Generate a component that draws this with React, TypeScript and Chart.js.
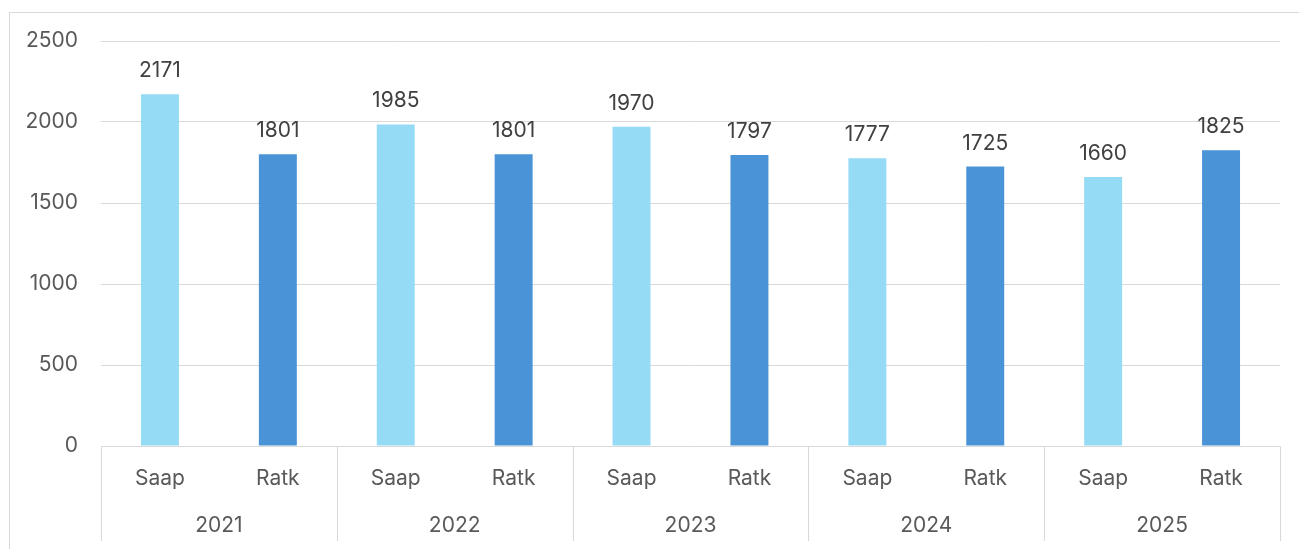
import React, { useEffect, useRef } from "react";
import { Chart, registerables } from "chart.js";

Chart.register(...registerables);

const years = ["2021", "2022", "2023", "2024", "2025"];
const subLabels = ["Saap", "Ratk"];
const saapValues = [2171, 1985, 1970, 1777, 1660];
const ratkValues = [1801, 1801, 1797, 1725, 1825];
const yTicks = [0, 500, 1000, 1500, 2000, 2500];

const SAAP_COLOR = "#95DBF5";
const RATK_COLOR = "#4A93D7";
const GRID = "#D9D9D9";
const FONT = "Inter";
const FONT_SIZE = 21;

export default function App() {
  const ref = useRef<HTMLCanvasElement | null>(null);

  useEffect(() => {
    if (!ref.current) return;
    const labels: string[] = [];
    const data: number[] = [];
    const colors: string[] = [];
    years.forEach((_, i) => {
      labels.push(subLabels[0]);
      data.push(saapValues[i]);
      colors.push(SAAP_COLOR);
      labels.push(subLabels[1]);
      data.push(ratkValues[i]);
      colors.push(RATK_COLOR);
    });

    const dataLabels = {
      id: "dataLabels",
      afterDatasetsDraw(chart: any) {
        const ctx = chart.ctx;
        const meta = chart.getDatasetMeta(0);
        ctx.save();
        ctx.font = `${FONT_SIZE}px ${FONT}`;
        ctx.fillStyle = "#404040";
        ctx.textAlign = "center";
        ctx.textBaseline = "alphabetic";
        meta.data.forEach((bar: any, i: number) => {
          ctx.fillText(String(data[i]), bar.x, bar.y - 17);
        });
        ctx.restore();
      },
    };

    const separators = {
      id: "separators",
      afterDraw(chart: any) {
        const ctx = chart.ctx;
        const xs = chart.scales.x;
        const n = years.length;
        ctx.save();
        ctx.strokeStyle = GRID;
        ctx.lineWidth = 1;
        for (let i = 0; i <= n; i++) {
          const x = Math.round(xs.left + (i * xs.width) / n) + 0.5;
          ctx.beginPath();
          ctx.moveTo(x, chart.chartArea.bottom);
          ctx.lineTo(x, 541);
          ctx.stroke();
        }
        ctx.restore();
      },
    };

    const chart = new Chart(ref.current, {
      type: "bar",
      data: {
        labels,
        datasets: [
          {
            data,
            backgroundColor: colors,
            barPercentage: 0.322,
            categoryPercentage: 1,
          },
        ],
      },
      options: {
        animation: false,
        responsive: false,
        maintainAspectRatio: false,
        layout: { padding: { left: 0, right: 19, top: 41, bottom: 0 } },
        plugins: { legend: { display: false }, tooltip: { enabled: false } },
        scales: {
          y: {
            min: 0,
            max: 2500,
            afterBuildTicks(scale: any) {
              scale.ticks = yTicks.map((v) => ({ value: v }));
            },
            afterFit(scale: any) {
              scale.width = 101;
            },
            border: { display: false },
            grid: { color: GRID, drawTicks: false, lineWidth: 1 },
            ticks: {
              padding: 23,
              color: "#595959",
              font: { family: FONT, size: FONT_SIZE },
              callback: (v: any) => String(v),
            },
          },
          x: {
            position: "bottom",
            afterFit(scale: any) {
              scale.height = 46;
            },
            border: { display: false },
            grid: { display: false },
            ticks: {
              padding: 12,
              color: "#595959",
              font: { family: FONT, size: FONT_SIZE },
              maxRotation: 0,
              autoSkip: false,
            },
          },
          x2: {
            type: "category",
            labels: years,
            position: "bottom",
            offset: true,
            afterFit(scale: any) {
              scale.height = 57;
            },
            border: { display: false },
            grid: { display: false },
            ticks: {
              padding: 13,
              color: "#595959",
              font: { family: FONT, size: FONT_SIZE },
              maxRotation: 0,
              autoSkip: false,
            },
          },
        },
      },
      plugins: [dataLabels, separators],
    } as any);
    return () => chart.destroy();
  }, []);

  return (
    <div style={{ position: "absolute", left: 0, top: 0, width: 1299, height: 549, background: "#fff", overflow: "hidden" }}>
      <div
        style={{
          position: "absolute",
          left: 9,
          top: 12,
          width: 1400,
          height: 600,
          borderTop: `1px solid ${GRID}`,
          borderLeft: `1px solid ${GRID}`,
        }}
      />
      <canvas ref={ref} width={1299} height={549} style={{ position: "absolute", left: 0, top: 0 }} />
    </div>
  );
}
